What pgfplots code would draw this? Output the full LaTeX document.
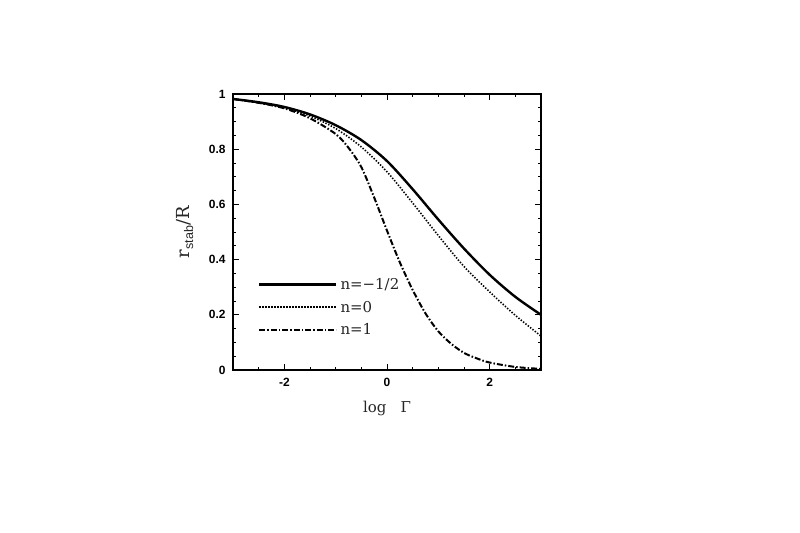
\documentclass[border=0pt]{standalone}
\usepackage{fontspec}
\setmainfont{DejaVu Serif}
\setsansfont{Liberation Sans}
\usepackage{pgfplots}
\pgfplotsset{compat=1.18}

% r_stab/R against log Gamma for three values of n
\pgfplotstableread{
x     y
-3    0.982
-2.5  0.970
-2    0.953
-1.5  0.926
-1    0.887
-0.5  0.833
0     0.757
0.5   0.655
1     0.545
1.5   0.440
2     0.345
2.5   0.265
3     0.200
}\nhalf
\pgfplotstableread{
x     y
-3    0.982
-2.5  0.968
-2    0.950
-1.5  0.920
-1    0.875
-0.5  0.808
0     0.718
0.5   0.605
1     0.487
1.5   0.375
2     0.283
2.5   0.198
3     0.123
}\nzero
\pgfplotstableread{
x     y
-3    0.982
-2.5  0.968
-2    0.948
-1.5  0.912
-1    0.855
-0.75 0.805
-0.5  0.735
-0.25 0.625
0     0.505
0.25  0.390
0.5   0.290
0.75  0.205
1     0.140
1.25  0.095
1.5   0.062
1.75  0.042
2     0.027
2.5   0.011
3     0.004
}\none

\begin{document}
\begin{tikzpicture}[x=1bp,y=1bp]
\path[use as bounding box] (0,0) rectangle (800,533);
\begin{axis}[
  at={(233bp,163bp)}, anchor=south west,
  scale only axis, width=308bp, height=276bp,
  xmin=-3, xmax=3, ymin=0, ymax=1,
  xtick={-2,0,2}, minor xtick={-3,-2.5,...,3},
  ytick={0,0.2,0.4,0.6,0.8,1}, minor ytick={0,0.05,...,1},
  tick align=inside, major tick length=6bp, minor tick length=3bp,
  axis line style={line width=1.2bp},
  every tick/.style={line width=0.8bp, black},
  ticklabel style={font=\fontsize{12}{14}\sffamily\bfseries},
  xticklabel style={yshift=-5bp},
  yticklabel style={xshift=-4bp},
  /pgf/number format/assume math mode=true,
  xlabel={log\ \ \ Γ},
  ylabel={r\textsubscript{\sffamily stab}/R},
  label style={font=\fontsize{15}{17}\selectfont, text=black!85},
  xlabel style={at={(axis description cs:0.5,-0.138)}, anchor=center},
  ylabel style={at={(axis description cs:-0.156,0.5)}, anchor=center,
    font=\fontsize{18}{20}\selectfont},
  legend style={draw=none, fill=none, at={(axis description cs:0.081,0.34)},
    anchor=north west, inner sep=0pt, row sep=6bp,
    font=\fontsize{15}{16}\selectfont, text=black!85,
    /tikz/every odd column/.style={column sep=1bp}},
  legend cell align=left,
  legend image code/.code={\draw[#1] (0bp,0bp) -- (77bp,0bp);},
]
\addplot[black, line width=2.4bp, smooth] table {\nhalf};
\addlegendentry{n=−1/2}
\addplot[black, line width=1.6bp, dash pattern=on 1.4bp off 1.6bp, smooth] table {\nzero};
\addlegendentry{n=0}
\addplot[black, line width=2bp, dash pattern=on 6bp off 2bp on 1.5bp off 2bp, smooth] table {\none};
\addlegendentry{n=1}
\end{axis}
\end{tikzpicture}
\end{document}
